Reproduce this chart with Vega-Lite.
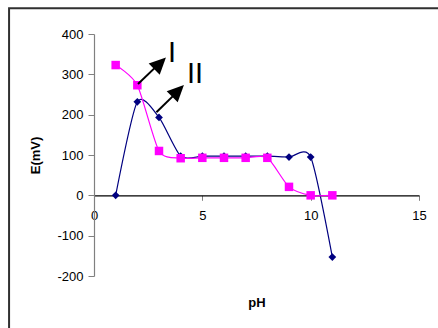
{
  "$schema": "https://vega.github.io/schema/vega-lite/v6.json",
  "width": 325,
  "height": 242,
  "autosize": {"type": "none"},
  "padding": {"left": 94, "top": 34, "right": 19, "bottom": 52},
  "background": "white",
  "config": {"view": {"stroke": null}, "font": "Liberation Sans"},
  "datasets": {
    "series": [
      {"pH": 1, "E": 0, "s": "I"},
      {"pH": 2, "E": 232, "s": "I"},
      {"pH": 3, "E": 193, "s": "I"},
      {"pH": 4, "E": 97, "s": "I"},
      {"pH": 5, "E": 97, "s": "I"},
      {"pH": 6, "E": 97, "s": "I"},
      {"pH": 7, "E": 97, "s": "I"},
      {"pH": 8, "E": 97, "s": "I"},
      {"pH": 9, "E": 95, "s": "I"},
      {"pH": 10, "E": 95, "s": "I"},
      {"pH": 11, "E": -153, "s": "I"},
      {"pH": 1, "E": 323, "s": "II"},
      {"pH": 2, "E": 273, "s": "II"},
      {"pH": 3, "E": 110, "s": "II"},
      {"pH": 4, "E": 92, "s": "II"},
      {"pH": 5, "E": 93, "s": "II"},
      {"pH": 6, "E": 93, "s": "II"},
      {"pH": 7, "E": 93, "s": "II"},
      {"pH": 8, "E": 93, "s": "II"},
      {"pH": 9, "E": 21, "s": "II"},
      {"pH": 10, "E": 0, "s": "II"},
      {"pH": 11, "E": 0, "s": "II"}
    ],
    "arrows": [
      {"x": 2.03, "y": 276, "x2": 3.06, "y2": 329, "tx": 3.32, "ty": 342},
      {"x": 2.88, "y": 206, "x2": 3.89, "y2": 259, "tx": 4.15, "ty": 273.5}
    ],
    "labels": [
      {"x": 3.6, "y": 354, "t": "I"},
      {"x": 4.66, "y": 302, "t": "II"}
    ],
    "frame": [{"x": -3.92, "y": 464, "x2": 25, "y2": -600}]
  },
  "layer": [
    {
      "data": {"name": "frame"},
      "mark": {"type": "rect", "fill": null, "stroke": "#303030", "strokeWidth": 2, "clip": false},
      "encoding": {
        "x": {"field": "x", "type": "quantitative", "scale": {"domain": [0, 15], "nice": false}},
        "x2": {"field": "x2"},
        "y": {"field": "y", "type": "quantitative", "scale": {"domain": [-200, 400], "nice": false}},
        "y2": {"field": "y2"}
      }
    },
    {
      "data": {"name": "series"},
      "mark": {"type": "line", "interpolate": "cardinal", "tension": 0.3, "strokeWidth": 1.2},
      "encoding": {
        "x": {
          "field": "pH", "type": "quantitative",
          "scale": {"domain": [0, 15], "nice": false},
          "axis": {
            "title": "pH", "titleFontWeight": "bold", "titleFontSize": 13, "titleColor": "black",
            "titleY": 107, "titleBaseline": "middle",
            "offset": -80.7, "values": [0, 5, 10, 15], "grid": false,
            "domainColor": "black", "domainWidth": 1.2, "tickColor": "#808080", "tickSize": 5,
            "labelFontSize": 13, "labelColor": "black", "labelPadding": 9, "labelFlush": false,
            "labelExpr": "'' + datum.value"
          }
        },
        "y": {
          "field": "E", "type": "quantitative",
          "scale": {"domain": [-200, 400], "nice": false},
          "axis": {
            "title": "E(mV)", "titleFontWeight": "bold", "titleFontSize": 13, "titleColor": "black",
            "titleX": -59, "titleY": 121, "titleBaseline": "middle",
            "values": [-200, -100, 0, 100, 200, 300, 400], "grid": false,
            "domainColor": "#808080", "domainWidth": 1.2, "tickColor": "#808080", "tickSize": 6,
            "labelFontSize": 13, "labelColor": "black", "labelPadding": 5,
            "labelExpr": "'' + datum.value"
          }
        },
        "color": {"field": "s", "type": "nominal", "scale": {"domain": ["I", "II"], "range": ["#000080", "#FF00FF"]}, "legend": null}
      }
    },
    {
      "data": {"name": "series"},
      "mark": {"type": "point", "filled": true, "opacity": 1},
      "encoding": {
        "x": {"field": "pH", "type": "quantitative"},
        "y": {"field": "E", "type": "quantitative"},
        "color": {"field": "s", "type": "nominal", "legend": null},
        "shape": {"field": "s", "type": "nominal", "scale": {"domain": ["I", "II"], "range": ["diamond", "square"]}, "legend": null},
        "size": {"field": "s", "type": "nominal", "scale": {"domain": ["I", "II"], "range": [60, 72]}, "legend": null}
      }
    },
    {
      "data": {"name": "arrows"},
      "mark": {"type": "rule", "color": "black", "strokeWidth": 2},
      "encoding": {
        "x": {"field": "x", "type": "quantitative"},
        "y": {"field": "y", "type": "quantitative"},
        "x2": {"field": "x2"},
        "y2": {"field": "y2"}
      }
    },
    {
      "data": {"name": "arrows"},
      "mark": {"type": "point", "filled": true, "color": "black", "opacity": 1, "shape": "M0,0L-0.47,1L0.47,1Z", "size": 1100, "angle": 45},
      "encoding": {
        "x": {"field": "tx", "type": "quantitative"},
        "y": {"field": "ty", "type": "quantitative"}
      }
    },
    {
      "data": {"name": "labels"},
      "mark": {"type": "text", "fontSize": 29, "color": "black", "align": "center", "baseline": "middle", "font": "Liberation Sans"},
      "encoding": {
        "x": {"field": "x", "type": "quantitative"},
        "y": {"field": "y", "type": "quantitative"},
        "text": {"field": "t"}
      }
    }
  ]
}
